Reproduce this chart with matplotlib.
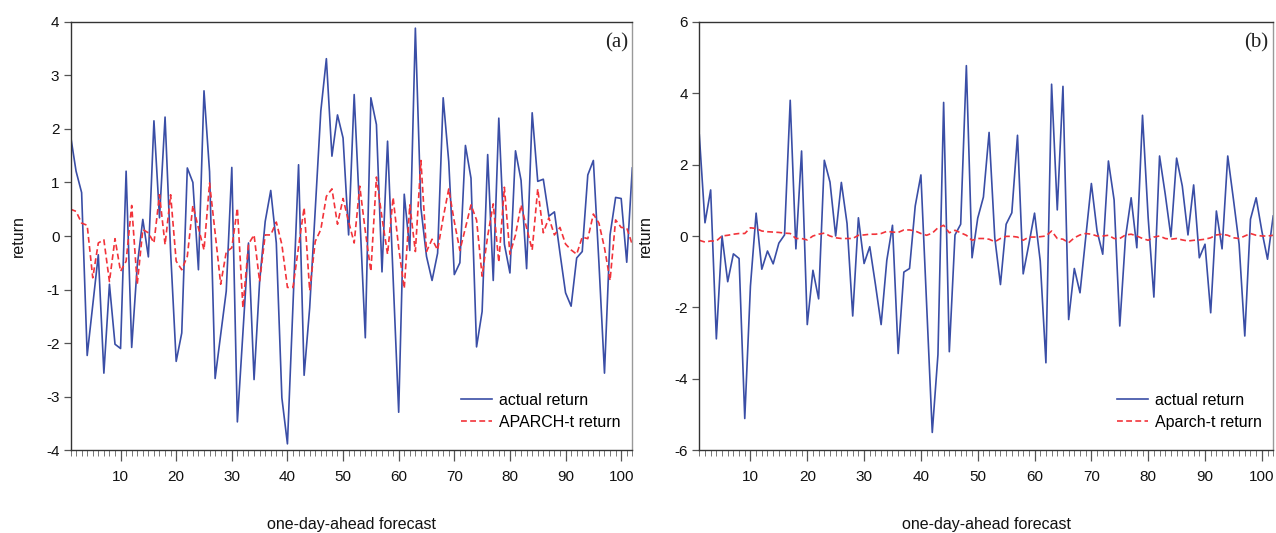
import numpy as np
import matplotlib
matplotlib.use("Agg")
import matplotlib.pyplot as plt
from matplotlib.ticker import MultipleLocator, FixedLocator

# ---- data ----
obs = list(range(1, 103))

actual_a = [1.88, 1.21, 0.81, -2.23, -1.29, -0.35, -2.56, -0.90, -2.02, -2.10,
            1.21, -2.08, -0.55, 0.31, -0.39, 2.15, 0.34, 2.22, -0.30, -2.34,
            -1.81, 1.27, 1.00, -0.63, 2.71, 1.20, -2.66, -1.84, -1.03, 1.28,
            -3.47, -1.80, -0.13, -2.68, -0.85, 0.27, 0.85, -0.13, -3.02, -3.88,
            -1.28, 1.33, -2.60, -1.34, 0.49, 2.33, 3.31, 1.49, 2.26, 1.83,
            0.02, 2.64, 0.40, -1.90, 2.58, 2.08, -0.67, 1.77, -0.78, -3.29,
            0.78, -0.27, 3.88, 0.52, -0.38, -0.83, -0.32, 2.58, 1.39, -0.72,
            -0.50, 1.69, 1.08, -2.07, -1.41, 1.52, -0.83, 2.20, -0.15, -0.69,
            1.59, 1.04, -0.61, 2.30, 1.02, 1.06, 0.37, 0.45, -0.32, -1.06,
            -1.31, -0.41, -0.29, 1.14, 1.41, -0.50, -2.56, 0.02, 0.72, 0.70,
            -0.49, 1.27]

aparch_a = [0.50, 0.46, 0.24, 0.20, -0.78, -0.13, -0.07, -0.85, -0.05, -0.66,
            -0.47, 0.57, -0.90, 0.12, 0.06, -0.13, 0.77, -0.16, 0.77, -0.47,
            -0.63, -0.38, 0.57, 0.15, -0.26, 0.99, 0.06, -0.90, -0.30, -0.22,
            0.52, -1.34, -0.15, 0.02, -0.85, 0.02, 0.02, 0.26, -0.16, -0.96,
            -0.96, -0.20, 0.53, -1.02, -0.10, 0.12, 0.74, 0.88, 0.22, 0.70,
            0.27, -0.13, 0.93, 0.09, -0.66, 1.10, 0.34, -0.34, 0.72, -0.22,
            -0.98, 0.58, -0.29, 1.41, -0.29, -0.06, -0.26, 0.34, 0.88, 0.27,
            -0.27, 0.15, 0.58, 0.30, -0.75, 0.00, 0.60, -0.49, 0.91, -0.34,
            0.02, 0.58, 0.15, -0.26, 0.88, 0.06, 0.34, 0.02, 0.16, -0.15,
            -0.26, -0.34, -0.02, -0.05, 0.41, 0.24, -0.22, -0.83, 0.30, 0.16,
            0.15, -0.16]

actual_b = [2.83, 0.37, 1.29, -2.88, 0.00, -1.28, -0.50, -0.63, -5.11, -1.40,
            0.64, -0.93, -0.42, -0.78, -0.20, 0.03, 3.80, -0.36, 2.38, -2.48,
            -0.96, -1.76, 2.12, 1.51, 0.00, 1.50, 0.35, -2.24, 0.51, -0.77,
            -0.30, -1.36, -2.48, -0.68, 0.30, -3.29, -1.01, -0.91, 0.84, 1.71,
            -1.89, -5.50, -3.32, 3.74, -3.24, 0.03, 0.33, 4.77, -0.61, 0.50,
            1.09, 2.90, -0.05, -1.36, 0.33, 0.65, 2.82, -1.06, -0.23, 0.64,
            -0.70, -3.55, 4.25, 0.73, 4.19, -2.34, -0.91, -1.59, -0.05, 1.47,
            0.14, -0.51, 2.10, 1.01, -2.52, -0.05, 1.07, -0.33, 3.38, 0.50,
            -1.71, 2.24, 1.17, -0.02, 2.18, 1.40, 0.03, 1.43, -0.61, -0.23,
            -2.15, 0.70, -0.36, 2.24, 1.03, -0.23, -2.80, 0.47, 1.07, 0.14,
            -0.65, 0.56]

aparch_b = [-0.12, -0.17, -0.14, -0.14, 0.00, 0.02, 0.05, 0.07, 0.07, 0.23,
            0.21, 0.14, 0.12, 0.11, 0.10, 0.08, 0.07, -0.07, -0.07, -0.11,
            0.00, 0.05, 0.08, 0.00, -0.05, -0.07, -0.07, -0.07, 0.02, 0.03,
            0.05, 0.05, 0.07, 0.13, 0.11, 0.10, 0.17, 0.17, 0.14, 0.07,
            0.02, 0.08, 0.23, 0.30, 0.09, 0.16, 0.09, 0.02, -0.12, -0.07,
            -0.07, -0.09, -0.16, -0.07, -0.01, -0.01, -0.03, -0.12, -0.03, -0.03,
            -0.02, 0.00, 0.14, -0.07, -0.09, -0.19, -0.05, 0.03, 0.07, 0.05,
            0.00, 0.00, 0.02, -0.07, -0.07, 0.03, 0.05, 0.00, -0.07, -0.12,
            -0.03, 0.00, -0.07, -0.09, -0.07, -0.11, -0.14, -0.12, -0.11, -0.09,
            -0.05, 0.03, 0.05, 0.02, -0.05, -0.07, 0.00, 0.07, 0.02, 0.00,
            0.00, 0.02]

xticks = [10, 20, 30, 40, 50, 60, 70, 80, 90, 100]
yticks_a = [-4, -3, -2, -1, 0, 1, 2, 3, 4]
yticks_b = [-6, -4, -2, 0, 2, 4, 6]

# ---- styling ----
plt.rcParams['font.family'] = ['Liberation Sans', 'DejaVu Sans']
plt.rcParams['axes.unicode_minus'] = False
BLUE = '#3a4ea6'
RED = '#f2333a'
DARK = '#333333'

W, H = 1276, 533
fig = plt.figure(figsize=(W / 100, H / 100), dpi=100)

panels = [
    dict(rect=(70.5, 21.7, 632.3, 450.3), actual=actual_a, model=aparch_a,
         yticks=yticks_a, ylim=(-4, 4), tag='(a)', lab='APARCH-t return',
         ylab_x=18, leg_x=461),
    dict(rect=(699.3, 21.7, 1273.2, 450.3), actual=actual_b, model=aparch_b,
         yticks=yticks_b, ylim=(-6, 6), tag='(b)', lab='Aparch-t return',
         ylab_x=645, leg_x=1117),
]

for p in panels:
    x0, y0, x1, y1 = p['rect']
    ax = fig.add_axes([x0 / W, 1 - y1 / H, (x1 - x0) / W, (y1 - y0) / H])
    ax.plot(obs, p['actual'], color=BLUE, lw=1.2, label='actual return')
    ax.plot(obs, p['model'], color=RED, lw=1.2, ls=(0, (3.5, 2.0)), label=p['lab'])
    ax.set_xlim(1, 102)
    ax.set_ylim(*p['ylim'])
    ax.xaxis.set_major_locator(FixedLocator(xticks))
    ax.xaxis.set_minor_locator(MultipleLocator(1))
    ax.set_yticks(p['yticks'])
    ax.tick_params(axis='x', which='major', direction='out', length=8, width=0.9,
                   color='#555555', labelsize=11, pad=6, labelcolor='#111111')
    ax.tick_params(axis='x', which='minor', direction='out', length=4, width=0.7,
                   color='#777777')
    ax.tick_params(axis='y', which='major', direction='out', length=5, width=0.9,
                   color='#555555', labelsize=11, pad=3, labelcolor='#111111')
    for s in ['left', 'bottom', 'top']:
        ax.spines[s].set_color(DARK)
        ax.spines[s].set_linewidth(1.0)
    ax.spines['right'].set_color('#999999')
    ax.spines['right'].set_linewidth(1.0)
    ax.text(0.992, 0.95, p['tag'], transform=ax.transAxes, ha='right', va='center',
            fontsize=15, family=['Liberation Serif', 'DejaVu Serif'], color='#222222')
    # axis labels placed in figure pixels
    fig.text(p['ylab_x'] / W, 1 - 236 / H, 'return', rotation=90, ha='center',
             va='center', fontsize=11.5, color='#111111')
    fig.text(((x0 + x1) / 2) / W, 1 - 524 / H, 'one-day-ahead forecast',
             ha='center', va='center', fontsize=11.5, color='#111111')
    ax.legend(loc='lower left',
              bbox_to_anchor=((p['leg_x'] - x0) / (x1 - x0), (y1 - 430) / (y1 - y0)),
              frameon=False, fontsize=11.5, handlelength=1.95, handletextpad=0.4,
              labelspacing=0.45, borderaxespad=0, borderpad=0)

fig.savefig('out.png', dpi=100)
